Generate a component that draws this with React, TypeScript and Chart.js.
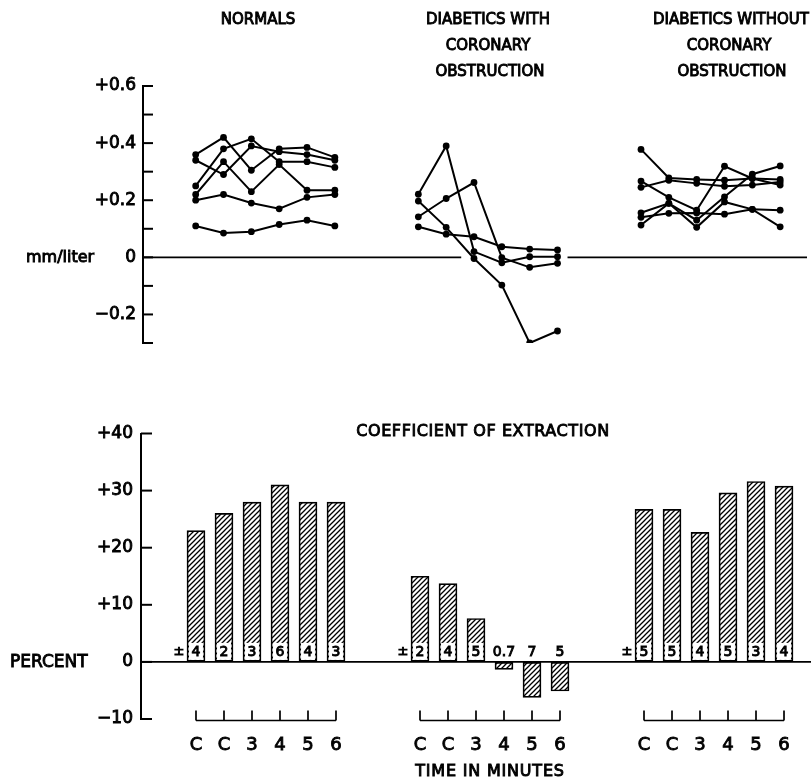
import React, { useEffect, useRef } from 'react';
import { Chart, registerables } from 'chart.js';

Chart.register(...registerables);

const FONT = "'DejaVu Sans', 'Liberation Sans', sans-serif";

// x slots: 6 time points per group, two empty slots between groups
const timeLabels = ['C', 'C', '3', '4', '5', '6'];
const normalsSlots = [0, 1, 2, 3, 4, 5];
const withSlots = [8, 9, 10, 11, 12, 13];
const withoutSlots = [16, 17, 18, 19, 20, 21];

// top panel: mm/liter, individual subjects
const normalsA = [0.36, 0.42, 0.305, 0.38, 0.385, 0.35];
const normalsB = [0.34, 0.29, 0.39, 0.37, 0.36, 0.34];
const normalsC = [0.25, 0.38, 0.415, 0.335, 0.335, 0.315];
const normalsD = [0.22, 0.335, 0.23, 0.325, 0.235, 0.235];
const normalsE = [0.2, 0.22, 0.19, 0.17, 0.21, 0.22];
const normalsF = [0.11, 0.085, 0.09, 0.115, 0.13, 0.11];

const withA = [0.221, 0.39, 0.02, -0.019, 0.002, 0.002];
const withB = [0.197, 0.105, -0.004, -0.097, -0.3, -0.258];
const withC = [0.142, 0.206, 0.262, -0.001, -0.035, -0.021];
const withD = [0.107, 0.081, 0.072, 0.037, 0.029, 0.026];

const withoutA = [0.378, 0.278, 0.273, 0.27, 0.276, 0.273];
const withoutB = [0.245, 0.27, 0.259, 0.249, 0.253, 0.264];
const withoutC = [0.267, 0.21, 0.165, 0.319, 0.276, 0.253];
const withoutD = [0.156, 0.189, 0.13, 0.212, 0.291, 0.32];
const withoutE = [0.14, 0.154, 0.155, 0.151, 0.168, 0.165];
const withoutF = [0.113, 0.189, 0.105, 0.194, 0.168, 0.107];

// bottom panel: coefficient of extraction (percent)
const normalsExtraction = [23, 26, 28, 31, 28, 28];
const withExtraction = [15, 13.7, 7.6, -1.3, -6.2, -5.1];
const withoutExtraction = [26.7, 26.7, 22.7, 29.6, 31.6, 30.8];

const normalsSE = ['4', '2', '3', '6', '4', '3'];
const withSE = ['2', '4', '5', '0.7', '7', '5'];
const withoutSE = ['5', '5', '4', '5', '3', '4'];

const topTickValues = [0.6, 0.4, 0.2, 0, -0.2];
const topTickLabels = ['+0.6', '+0.4', '+0.2', '0', '\u22120.2'];
const botTickValues = [40, 30, 20, 10, 0, -10];
const botTickLabels = ['+40', '+30', '+20', '+10', '0', '\u221210'];

const groupSlots = [normalsSlots, withSlots, withoutSlots];

const pts = (slots: number[], vals: number[]) => vals.map((v, i) => ({ x: slots[i], y: v }));

function makeHatch(ctx: CanvasRenderingContext2D) {
  const s = 5;
  const c = document.createElement('canvas');
  c.width = s;
  c.height = s;
  const g = c.getContext('2d')!;
  g.fillStyle = '#fff';
  g.fillRect(0, 0, s, s);
  g.strokeStyle = '#000';
  g.lineWidth = 1.3;
  g.beginPath();
  g.moveTo(-1, s + 1);
  g.lineTo(s + 1, -1);
  g.moveTo(-1, 1);
  g.lineTo(1, -1);
  g.moveTo(s - 1, s + 1);
  g.lineTo(s + 1, s - 1);
  g.stroke();
  return ctx.createPattern(c, 'repeat')!;
}

function txt(ctx: CanvasRenderingContext2D, s: string, x: number, y: number, size: number, align: CanvasTextAlign = 'center', spacing = 0) {
  ctx.save();
  ctx.font = `${size}px ${FONT}`;
  (ctx as any).letterSpacing = `${spacing}px`;
  ctx.textAlign = align;
  ctx.textBaseline = 'middle';
  ctx.fillStyle = '#000';
  ctx.strokeStyle = '#000';
  ctx.lineWidth = 0.9;
  ctx.fillText(s, x, y);
  ctx.strokeText(s, x, y);
  ctx.restore();
}

function inwardTicks(len: number) {
  return {
    id: 'inwardTicks',
    afterDraw(chart: any) {
      const ys = chart.scales.y;
      const left = chart.chartArea.left;
      const ctx = chart.ctx;
      ctx.save();
      ctx.strokeStyle = '#000';
      ctx.lineWidth = 2;
      ys.ticks.forEach((t: any) => {
        const y = ys.getPixelForValue(t.value);
        ctx.beginPath();
        ctx.moveTo(left, y);
        ctx.lineTo(left + len, y);
        ctx.stroke();
      });
      ctx.restore();
    },
  };
}

const lineDs = (slots: number[], vals: number[]) => ({
  data: pts(slots, vals),
  showLine: true,
  borderColor: '#000',
  backgroundColor: '#000',
  borderWidth: 2,
  pointRadius: 3.4,
  pointBorderWidth: 0,
});

export default function App() {
  const topRef = useRef<HTMLCanvasElement>(null);
  const botRef = useRef<HTMLCanvasElement>(null);

  useEffect(() => {
    Chart.defaults.font.family = FONT;
    Chart.defaults.color = '#000';

    const topPlugins = [
      inwardTicks(10),
      {
        id: 'topDecor',
        beforeDatasetsDraw(chart: any) {
          const { ctx, chartArea } = chart;
          const xs = chart.scales.x;
          const y0 = chart.scales.y.getPixelForValue(0);
          ctx.save();
          ctx.strokeStyle = '#000';
          ctx.lineWidth = 1.8;
          ctx.beginPath();
          ctx.moveTo(chartArea.left, y0);
          ctx.lineTo(xs.getPixelForValue(9.54), y0);
          ctx.moveTo(xs.getPixelForValue(13.36), y0);
          ctx.lineTo(chartArea.right, y0);
          ctx.stroke();
          ctx.restore();
        },
        afterDraw(chart: any) {
          const { ctx } = chart;
          const y0 = chart.scales.y.getPixelForValue(0);
          txt(ctx, 'NORMALS', 258, 20, 15);
          txt(ctx, 'DIABETICS WITH', 488, 20, 15);
          txt(ctx, 'CORONARY', 488, 46, 15);
          txt(ctx, 'OBSTRUCTION', 490, 72, 15);
          txt(ctx, 'DIABETICS WITHOUT', 731, 20, 15);
          txt(ctx, 'CORONARY', 729, 46, 15);
          txt(ctx, 'OBSTRUCTION', 732, 72, 15);
          txt(ctx, 'mm/liter', 26, y0 + 1, 16, 'left');
        },
      },
    ];

    const top = new Chart(topRef.current!, {
      type: 'scatter',
      data: {
        datasets: [
          lineDs(normalsSlots, normalsA),
          lineDs(normalsSlots, normalsB),
          lineDs(normalsSlots, normalsC),
          lineDs(normalsSlots, normalsD),
          lineDs(normalsSlots, normalsE),
          lineDs(normalsSlots, normalsF),
          lineDs(withSlots, withA),
          lineDs(withSlots, withB),
          lineDs(withSlots, withC),
          lineDs(withSlots, withD),
          lineDs(withoutSlots, withoutA),
          lineDs(withoutSlots, withoutB),
          lineDs(withoutSlots, withoutC),
          lineDs(withoutSlots, withoutD),
          lineDs(withoutSlots, withoutE),
          lineDs(withoutSlots, withoutF),
        ] as any,
      },
      options: {
        responsive: false,
        animation: false,
        events: [],
        layout: { padding: { top: 86, bottom: 57, left: 0, right: 0 } },
        plugins: { legend: { display: false }, tooltip: { enabled: false } },
        scales: {
          x: { type: 'linear', display: false, min: -1.893, max: 21.964, offset: false },
          y: {
            type: 'linear',
            min: -0.3,
            max: 0.6,
            afterFit: (s: any) => { s.width = 143; },
            ticks: {
              stepSize: 0.1,
              padding: 7,
              font: { size: 17 },
              color: '#000',
              textStrokeColor: '#000',
              textStrokeWidth: 0.9,
              callback: (v: any) => {
                const i = topTickValues.findIndex((t) => Math.abs(t - Number(v)) < 1e-6);
                return i >= 0 ? topTickLabels[i] : '';
              },
            } as any,
            grid: { display: true, drawOnChartArea: false, drawTicks: false },
            border: { display: true, color: '#000', width: 2 },
          },
        },
      } as any,
      plugins: topPlugins as any,
    });

    const bctx = botRef.current!.getContext('2d')!;
    const hatch = makeHatch(bctx);
    const allSE = [...normalsSE, ...withSE, ...withoutSE];
    const allSlots = [...normalsSlots, ...withSlots, ...withoutSlots];
    const allTimeLabels = [...timeLabels, ...timeLabels, ...timeLabels];

    const botPlugins = [
      inwardTicks(11),
      {
        id: 'botDecor',
        afterDatasetsDraw(chart: any) {
          const { ctx, chartArea } = chart;
          const xs = chart.scales.x;
          const ys = chart.scales.y;
          const y0 = ys.getPixelForValue(0);
          ctx.save();
          ctx.strokeStyle = '#000';
          ctx.lineWidth = 1.8;
          ctx.beginPath();
          ctx.moveTo(chartArea.left, y0);
          ctx.lineTo(chartArea.right, y0);
          ctx.stroke();
          ctx.restore();
          const meta = chart.getDatasetMeta(0);
          meta.data.forEach((bar: any, i: number) => {
            const label = allSE[i];
            const raw = chart.data.datasets[0].data[i].y;
            ctx.save();
            ctx.font = `14px ${FONT}`;
            const w = ctx.measureText(label).width;
            if (raw > 0) {
              ctx.fillStyle = '#fff';
              const bw = Math.min(w + 5, 14);
              ctx.fillRect(bar.x - bw / 2, y0 - 19, bw, 17);
            }
            ctx.restore();
            txt(ctx, label, bar.x, y0 - 10, 14, 'center');
          });
          groupSlots.forEach((g) => {
            txt(ctx, '\u00b1', xs.getPixelForValue(g[0]) - 17, y0 - 10, 13, 'center');
          });
          ctx.save();
          ctx.strokeStyle = '#000';
          ctx.lineWidth = 1.7;
          const by = chartArea.bottom + 1.5;
          groupSlots.forEach((g) => {
            const x1 = xs.getPixelForValue(g[0]);
            const x2 = xs.getPixelForValue(g[g.length - 1]);
            ctx.beginPath();
            ctx.moveTo(x1, by);
            ctx.lineTo(x2, by);
            g.forEach((s) => {
              const x = xs.getPixelForValue(s);
              ctx.moveTo(x, by);
              ctx.lineTo(x, by - 10);
            });
            ctx.stroke();
          });
          ctx.restore();
          txt(ctx, 'COEFFICIENT OF EXTRACTION', 483, 32, 16, 'center', 0.6);
          txt(ctx, 'TIME IN MINUTES', 490, 372, 16, 'center', 0.8);
          txt(ctx, 'PERCENT', 10, y0 + 1, 17, 'left');
        },
      },
    ];

    const bot = new Chart(botRef.current!, {
      type: 'bar',
      data: {
        datasets: [
          {
            data: [
              ...pts(normalsSlots, normalsExtraction),
              ...pts(withSlots, withExtraction),
              ...pts(withoutSlots, withoutExtraction),
            ],
            backgroundColor: hatch,
            borderColor: '#000',
            borderWidth: 1.7,
            borderSkipped: false,
            barThickness: 18,
          },
        ] as any,
      },
      options: {
        responsive: false,
        animation: false,
        events: [],
        layout: { padding: { top: 33.5, bottom: 0, left: 0, right: 0 } },
        plugins: { legend: { display: false }, tooltip: { enabled: false } },
        scales: {
          x: {
            type: 'linear',
            min: -1.964,
            max: 21.964,
            offset: false,
            afterBuildTicks: (s: any) => { s.ticks = allSlots.map((v) => ({ value: v })); },
            afterFit: (s: any) => { s.height = 64; },
            ticks: {
              autoSkip: false,
              maxRotation: 0,
              padding: 8,
              font: { size: 18 },
              color: '#000',
              textStrokeColor: '#000',
              textStrokeWidth: 0.9,
              callback: (_v: any, i: number) => allTimeLabels[i] ?? '',
            } as any,
            grid: { display: false },
            border: { display: false },
          },
          y: {
            type: 'linear',
            min: -10,
            max: 40,
            afterFit: (s: any) => { s.width = 141; },
            ticks: {
              stepSize: 10,
              padding: 8,
              font: { size: 17 },
              color: '#000',
              textStrokeColor: '#000',
              textStrokeWidth: 0.9,
              callback: (v: any) => {
                const i = botTickValues.findIndex((t) => Math.abs(t - Number(v)) < 1e-6);
                return i >= 0 ? botTickLabels[i] : '';
              },
            } as any,
            grid: { display: true, drawOnChartArea: false, drawTicks: false },
            border: { display: true, color: '#000', width: 2 },
          },
        },
      } as any,
      plugins: botPlugins as any,
    });

    return () => {
      top.destroy();
      bot.destroy();
    };
  }, []);

  return (
    <div style={{ position: 'absolute', left: 0, top: 0, width: 811, height: 783, background: '#fff' }}>
      <canvas ref={topRef} width={811} height={400} style={{ position: 'absolute', left: 0, top: 0, display: 'block' }} />
      <canvas ref={botRef} width={811} height={383} style={{ position: 'absolute', left: 0, top: 400, display: 'block' }} />
    </div>
  );
}
